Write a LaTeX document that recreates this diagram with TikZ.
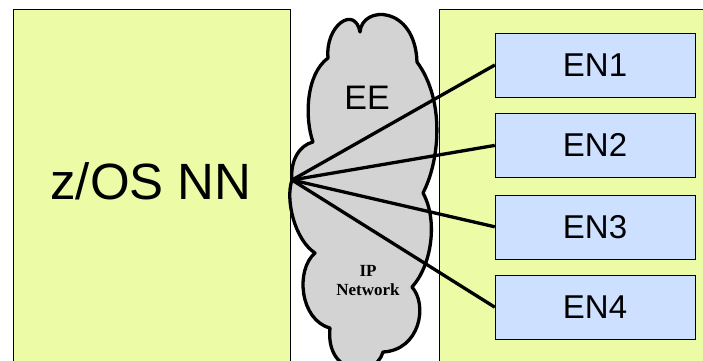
\documentclass[tikz,border=0pt]{standalone}
\usepackage{fontspec}
\setmainfont{Liberation Sans}
\newfontfamily\serifbold{Liberation Serif}
\usetikzlibrary{positioning}

\definecolor{limefill}{RGB}{236,251,166}
\definecolor{enfill}{RGB}{206,224,255}
\definecolor{cloudfill}{RGB}{211,211,211}

\begin{document}
\begin{tikzpicture}[x=1pt,y=-1pt,
    enbox/.style={draw,fill=enfill,minimum width=200pt,minimum height=64pt,
      inner sep=0pt,font=\fontsize{33}{33}\selectfont},
    link/.style={line width=3.3pt}]
    \clip (0,0) rectangle (703,360);
    \fill[white] (0,0) rectangle (703,360);
    % the two hosts
    \draw[fill=limefill] (13,9) rectangle (290,375);
    \draw[fill=limefill] (439,9) rectangle (712,375);
    \node (nn) at (151,181) {\fontsize{51}{51}\selectfont z/OS NN};
    % the IP network
    \draw[fill=cloudfill,line width=3.3pt,line join=round] (292,180)
      .. controls (290,160) and (300,145) .. (313,142)
      .. controls (305,120) and (305,75) .. (328,58)
      .. controls (325,25) and (355,5) .. (360,32)
      .. controls (362,5) and (415,5) .. (417,62)
      .. controls (445,100) and (440,160) .. (423,193)
      .. controls (438,220) and (432,265) .. (412,287)
      .. controls (428,305) and (420,350) .. (383,352)
      .. controls (375,380) and (325,375) .. (330,328)
      .. controls (300,320) and (295,270) .. (315,253)
      .. controls (295,240) and (285,200) .. cycle;
    \node (ee) at (367,98) {\fontsize{34}{34}\selectfont EE};
    \node[align=center,font=\serifbold\bfseries\fontsize{17}{19}\selectfont] (ip) at (368,281) {IP\\Network};
    % the end nodes
    \node[enbox] (en1) at (595,65) {EN1};
    \node[enbox,below=16pt of en1] (en2) {EN2};
    \node[enbox,below=17pt of en2] (en3) {EN3};
    \node[enbox,below=16pt of en3] (en4) {EN4};
    \coordinate (hub) at (292,180);
    \foreach \n in {en1,en2,en3,en4}
      \draw[link] (hub) -- (\n.west);
  \end{tikzpicture}
\end{document}
